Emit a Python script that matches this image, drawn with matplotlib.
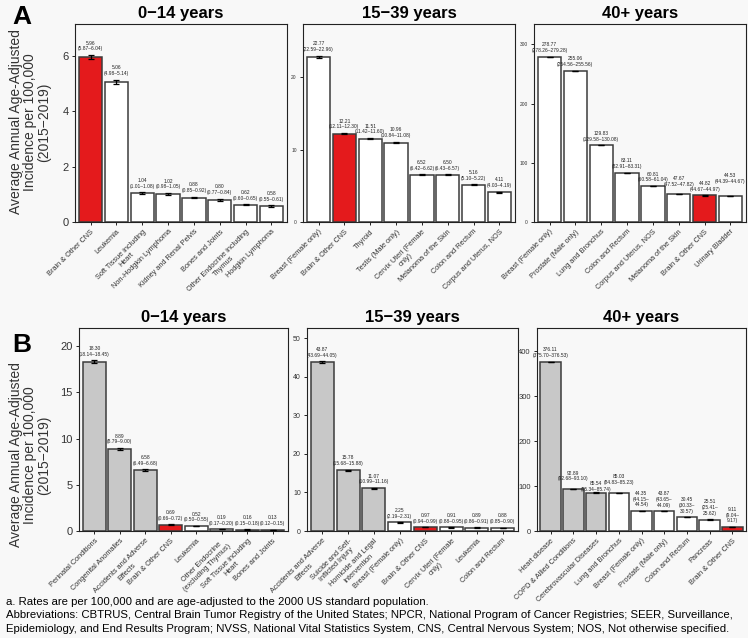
#!/usr/bin/env python3
"""Incidence (A) and mortality-type (B) rates by age group, bar charts with 95% CI."""

import numpy as np
import matplotlib
matplotlib.use("Agg")
import matplotlib.pyplot as plt
from matplotlib.ticker import MultipleLocator

plt.rcParams['font.family'] = ['Liberation Sans', 'DejaVu Sans']

# ---- Panel A data (incidence) ----
a_child_sites = ["Brain & Other CNS", "Leukemia", "Soft Tissue including\nHeart",
                 "Non-Hodgkin Lymphoma", "Kidney and Renal Pelvis", "Bones and Joints",
                 "Other Endocrine including\nThymus", "Hodgkin Lymphoma"]
a_child_rate = [5.96, 5.06, 1.04, 1.02, 0.88, 0.80, 0.62, 0.58]
a_child_lo = [5.87, 4.98, 1.01, 0.98, 0.85, 0.77, 0.60, 0.55]
a_child_hi = [6.04, 5.14, 1.08, 1.05, 0.92, 0.84, 0.65, 0.61]
a_child_kind = ["cns", "cancer", "cancer", "cancer", "cancer", "cancer", "cancer", "cancer"]

a_aya_sites = ["Breast (Female only)", "Brain & Other CNS", "Thyroid", "Testis (Male only)",
               "Cervix Uteri (Female\nonly)", "Melanoma of the Skin", "Colon and Rectum",
               "Corpus and Uterus, NOS"]
a_aya_rate = [22.77, 12.21, 11.51, 10.96, 6.52, 6.50, 5.16, 4.11]
a_aya_lo = [22.59, 12.11, 11.42, 10.84, 6.42, 6.43, 5.10, 4.03]
a_aya_hi = [22.96, 12.30, 11.60, 11.08, 6.62, 6.57, 5.22, 4.19]
a_aya_kind = ["cancer", "cns", "cancer", "cancer", "cancer", "cancer", "cancer", "cancer"]

a_adult_sites = ["Breast (Female only)", "Prostate (Male only)", "Lung and Bronchus",
                 "Colon and Rectum", "Corpus and Uterus, NOS", "Melanoma of the Skin",
                 "Brain & Other CNS", "Urinary Bladder"]
a_adult_rate = [278.77, 255.06, 129.83, 83.11, 60.81, 47.67, 44.82, 44.53]
a_adult_lo = [278.26, 254.56, 129.58, 82.91, 60.58, 47.52, 44.67, 44.39]
a_adult_hi = [279.28, 255.56, 130.08, 83.31, 61.04, 47.82, 44.97, 44.67]
a_adult_kind = ["cancer", "cancer", "cancer", "cancer", "cancer", "cancer", "cns", "cancer"]

# ---- Panel B data ----
b_child_sites = ["Perinatal Conditions", "Congenital Anomalies", "Accidents and Adverse\nEffects",
                 "Brain & Other CNS", "Leukemia", "Other Endocrine\n(excluding Thymus)",
                 "Soft Tissue including\nHeart", "Bones and Joints"]
b_child_rate = [18.30, 8.89, 6.58, 0.69, 0.52, 0.19, 0.16, 0.13]
b_child_lo = [18.14, 8.79, 6.49, 0.66, 0.50, 0.17, 0.15, 0.12]
b_child_hi = [18.45, 9.00, 6.68, 0.72, 0.55, 0.20, 0.18, 0.15]
b_child_kind = ["other", "other", "other", "cns", "cancer", "cancer", "cancer", "cancer"]

b_aya_sites = ["Accidents and Adverse\nEffects", "Suicide and Self-\nInflicted Injury",
               "Homicide and Legal\nIntervention", "Breast (Female only)", "Brain & Other CNS",
               "Cervix Uteri (Female\nonly)", "Leukemia", "Colon and Rectum"]
b_aya_rate = [43.87, 15.78, 11.07, 2.25, 0.97, 0.91, 0.89, 0.88]
b_aya_lo = [43.69, 15.68, 10.99, 2.19, 0.94, 0.88, 0.86, 0.85]
b_aya_hi = [44.05, 15.88, 11.16, 2.31, 0.99, 0.95, 0.91, 0.90]
b_aya_kind = ["other", "other", "other", "cancer", "cns", "cancer", "cancer", "cancer"]

b_adult_sites = ["Heart disease", "COPD & Allied Conditions", "Cerebrovascular Diseases",
                 "Lung and Bronchus", "Breast (Female only)", "Prostate (Male only)",
                 "Colon and Rectum", "Pancreas", "Brain & Other CNS"]
b_adult_rate = [376.11, 92.89, 85.54, 85.03, 44.35, 43.87, 30.45, 25.51, 9.11]
b_adult_lo = [375.70, 92.68, 85.34, 84.83, 44.15, 43.65, 30.33, 25.41, 9.04]
b_adult_hi = [376.53, 93.10, 85.74, 85.23, 44.54, 44.09, 30.57, 25.62, 9.17]
b_adult_kind = ["other", "other", "other", "cancer", "cancer", "cancer", "cancer", "cancer", "cns"]

FILL = {"cns": "#E41A1C", "cancer": "white", "other": "#C8C8C8"}
BG = "#F8F8F8"
W, H = 748, 638

fig = plt.figure(figsize=(7.48, 6.38), dpi=100, facecolor=BG)


def add_axes(left, right, top, bottom):
    return fig.add_axes([left / W, 1 - bottom / H, (right - left) / W, (bottom - top) / H])


def draw_panel(ax, title, sites, rate, lo, hi, kinds, ystep, ytick_size,
               wrap_from=None, lift=None):
    rate = np.array(rate)
    lo = np.array(lo)
    hi = np.array(hi)
    x = np.arange(len(sites))
    ax.set_facecolor(BG)
    ax.bar(x, rate, width=0.9, color=[FILL[k] for k in kinds],
           edgecolor="#3c3c3c", linewidth=1.1, zorder=2)
    ax.errorbar(x, rate, yerr=[rate - lo, hi - rate], fmt="none", ecolor="black",
                elinewidth=0.9, capsize=2.2, capthick=0.9, zorder=3)
    lift = lift or {}
    for i in range(len(x)):
        if wrap_from is not None and i >= wrap_from:
            txt = f"{rate[i]:.2f}\n({lo[i]:.2f}–\n{hi[i]:.2f})"
        else:
            txt = f"{rate[i]:.2f}\n({lo[i]:.2f}–{hi[i]:.2f})"
        ax.annotate(txt, (x[i], hi[i]), xytext=(0, 2.5 + lift.get(i, 0)),
                    textcoords="offset points", ha="center", va="bottom",
                    fontsize=3.5, linespacing=1.2, color="#222222")
    ax.set_xlim(-0.6, len(x) - 0.4)
    ax.set_ylim(0, rate.max() * 1.2)
    ax.yaxis.set_major_locator(MultipleLocator(ystep))
    ax.set_xticks(x)
    ax.set_xticklabels(sites, rotation=45, ha="right", va="top", ma="center",
                       rotation_mode="anchor", fontsize=5.3, color="#333333")
    ax.tick_params(axis="x", length=2.5, width=0.6, pad=2)
    ax.tick_params(axis="y", length=2.5, width=0.6, pad=2, labelsize=ytick_size,
                   labelcolor="#333333")
    for s in ax.spines.values():
        s.set_linewidth(0.8)
        s.set_color("#222222")
    ax.set_title(title, fontsize=12, fontweight="bold", pad=4)


# Row A
ax = add_axes(75, 287, 24, 222)
draw_panel(ax, "0\u221214 years", a_child_sites, a_child_rate, a_child_lo, a_child_hi,
           a_child_kind, 2, 8)
ax = add_axes(303, 515, 24, 222)
draw_panel(ax, "15\u221239 years", a_aya_sites, a_aya_rate, a_aya_lo, a_aya_hi,
           a_aya_kind, 10, 3.5)
ax = add_axes(534, 746, 24, 222)
draw_panel(ax, "40+ years", a_adult_sites, a_adult_rate, a_adult_lo, a_adult_hi,
           a_adult_kind, 100, 3.5, lift={5: 2.5, 7: 6})

# Row B
ax = add_axes(79, 288, 328, 531)
draw_panel(ax, "0\u221214 years", b_child_sites, b_child_rate, b_child_lo, b_child_hi,
           b_child_kind, 5, 8)
ax = add_axes(307, 518, 328, 531)
draw_panel(ax, "15\u221239 years", b_aya_sites, b_aya_rate, b_aya_lo, b_aya_hi,
           b_aya_kind, 10, 5)
ax = add_axes(537, 746, 328, 531)
draw_panel(ax, "40+ years", b_adult_sites, b_adult_rate, b_adult_lo, b_adult_hi,
           b_adult_kind, 100, 5.5, wrap_from=4, lift={1: 3, 2: -2, 3: 3})

# Panel letters and y labels
ylab = "Average Annual Age-Adjusted\nIncidence per 100,000\n(2015\u22122019)"
fig.text(22 / W, 1 - 17 / H, "A", fontsize=19, fontweight="bold", ha="center", va="center")
fig.text(22 / W, 1 - 345 / H, "B", fontsize=19, fontweight="bold", ha="center", va="center")
fig.text(30 / W, 1 - 122 / H, ylab, rotation=90, ha="center", va="center",
         fontsize=10, color="#333333", linespacing=1.0)
fig.text(30 / W, 1 - 455 / H, ylab, rotation=90, ha="center", va="center",
         fontsize=10, color="#333333", linespacing=1.0)

# Footnotes
fig.text(6 / W, 1 - 602 / H, "a. Rates are per 100,000 and are age-adjusted to the 2000 US standard population.",
         fontsize=8.2, va="center")
fig.text(6 / W, 1 - 615.5 / H, "Abbreviations: CBTRUS, Central Brain Tumor Registry of the United States; NPCR, "
         "National Program of Cancer Registries; SEER, Surveillance,", fontsize=8.2, va="center")
fig.text(6 / W, 1 - 629 / H, "Epidemiology, and End Results Program; NVSS, National Vital Statistics System, "
         "CNS, Central Nervous System; NOS, Not otherwise specified.", fontsize=8.2, va="center")

fig.savefig("out.png", dpi=100, facecolor=BG)
